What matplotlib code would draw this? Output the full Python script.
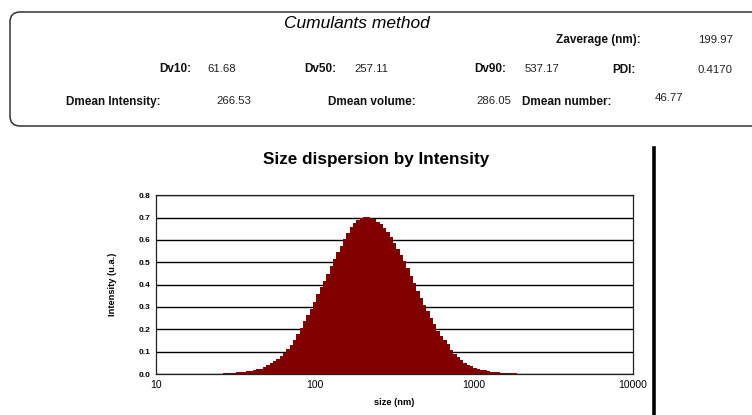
import numpy as np
import matplotlib
matplotlib.use("Agg")
import matplotlib.pyplot as plt
from matplotlib.patches import FancyBboxPatch
from matplotlib.lines import Line2D
from matplotlib.transforms import IdentityTransform

plt.rcParams['font.family'] = ['Liberation Sans', 'DejaVu Sans']

# cumulants results
summary_labels = ["Zaverage (nm):", "Dv10:", "Dv50:", "Dv90:", "PDI:",
                  "Dmean Intensity:", "Dmean volume:", "Dmean number:"]
summary_values = ["199.97", "61.68", "257.11", "537.17", "0.4170",
                  "266.53", "286.05", "46.77"]

# size distribution (log-spaced bins, log10 size from 1.38 to 3.375)
log_start = 1.38
log_step = 0.021
intensity = [
    0.001, 0.002, 0.003, 0.004, 0.005, 0.006, 0.007, 0.009, 0.010, 0.012,
    0.015, 0.018, 0.021, 0.024, 0.030, 0.040, 0.048, 0.056, 0.067, 0.079,
    0.095, 0.113, 0.132, 0.152, 0.177, 0.206, 0.238, 0.266, 0.293, 0.322,
    0.356, 0.388, 0.418, 0.449, 0.483, 0.515, 0.544, 0.574, 0.604, 0.633,
    0.659, 0.678, 0.690, 0.698, 0.703, 0.705, 0.700, 0.692, 0.682, 0.670,
    0.654, 0.635, 0.612, 0.588, 0.561, 0.534, 0.505, 0.475, 0.440, 0.406,
    0.373, 0.341, 0.311, 0.281, 0.251, 0.222, 0.192, 0.172, 0.154, 0.135,
    0.108, 0.089, 0.074, 0.061, 0.051, 0.042, 0.034, 0.028, 0.023, 0.020,
    0.017, 0.014, 0.010, 0.008, 0.007, 0.005, 0.004, 0.004, 0.003, 0.003,
    0.002, 0.001, 0.001, 0.001, 0.001,
]
x_ticks = [10, 100, 1000, 10000]
y_ticks = [0.0, 0.1, 0.2, 0.3, 0.4, 0.5, 0.6, 0.7, 0.8]

W, H = 752, 415
fig = plt.figure(figsize=(W / 100, H / 100), dpi=100)


def ftext(x, y, s, **kw):
    # pixel coords from top-left
    fig.text(x / W, 1 - y / H, s, va="center", **kw)


# rounded summary box
box = FancyBboxPatch((10, H - 126), 800, 114, boxstyle="round,pad=0,rounding_size=10",
                     transform=IdentityTransform(), fill=False, lw=1.1, ec="#333333")
fig.add_artist(box)

ftext(357, 23, "Cumulants method", ha="center", fontsize=12.5, style="italic")

lab = dict(fontsize=8.5, fontweight="bold", color="#111111")
val = dict(fontsize=8.2, color="#222222")
ftext(641, 40, summary_labels[0], ha="right", **lab)
ftext(698, 40, summary_values[0], ha="left", **val)
ftext(191, 69, summary_labels[1], ha="right", **lab)
ftext(207, 69, summary_values[1], ha="left", **val)
ftext(336, 69, summary_labels[2], ha="right", **lab)
ftext(354, 69, summary_values[2], ha="left", **val)
ftext(506, 69, summary_labels[3], ha="right", **lab)
ftext(525, 69, summary_values[3], ha="left", **val)
ftext(636, 70, summary_labels[4], ha="right", **lab)
ftext(698, 70, summary_values[4], ha="left", **val)
ftext(161, 102, summary_labels[5], ha="right", **lab)
ftext(216, 101, summary_values[5], ha="left", **val)
ftext(416, 102, summary_labels[6], ha="right", **lab)
ftext(476, 101, summary_values[6], ha="left", **val)
ftext(611, 102, summary_labels[7], ha="right", **lab)
ftext(655, 98, summary_values[7], ha="left", **val)

ftext(376, 159, "Size dispersion by Intensity", ha="center", fontsize=12.3, fontweight="bold")

# vertical separator on the right
fig.add_artist(Line2D([654 / W, 654 / W], [1 - 148 / H, 0], color="black", lw=2.6))

ax = fig.add_axes([155.7 / W, 41 / H, 477 / W, 178.7 / H])
edges = 10 ** (log_start + log_step * np.arange(len(intensity) + 1))
ax.stairs(intensity, edges, fill=True, color="#800000", zorder=3)

ax.set_xscale("log")
ax.set_xlim(10, 10000)
ax.set_ylim(0, 0.8)
ax.set_xticks(x_ticks)
ax.set_xticklabels([str(t) for t in x_ticks], fontsize=7.5)
ax.xaxis.set_minor_locator(matplotlib.ticker.NullLocator())
ax.set_yticks(y_ticks)
ax.set_yticklabels([f"{t:.1f}" for t in y_ticks], fontsize=6, fontweight="bold")
ax.tick_params(axis="x", direction="in", length=3, pad=4, width=0.6)
ax.tick_params(axis="y", length=0, pad=4)
ax.yaxis.grid(True, color="black", lw=1.0, zorder=1)
ax.set_axisbelow(True)
for s in ax.spines.values():
    s.set_linewidth(0.9)
    s.set_color("#222222")

ax.set_xlabel("size (nm)", fontsize=6.7, fontweight="bold", labelpad=6)
ax.set_ylabel("Intensity (u.a.)", fontsize=6.7, fontweight="bold", labelpad=15)

fig.savefig("out.png", dpi=100)
